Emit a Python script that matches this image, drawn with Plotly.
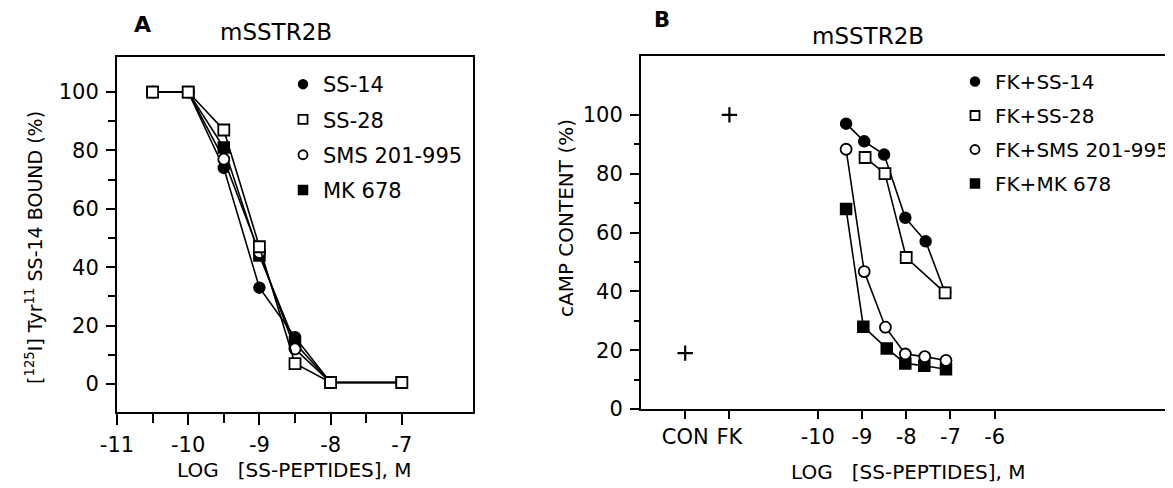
import plotly.graph_objects as go

# ---------------- data ----------------
# Panel A: binding competition
x_a = [-10.5, -10, -9.5, -9, -8.5, -8, -7]
ss14_a = [100, 100, 74, 33, 16, 0.5, 0.5]
ss28_a = [100, 100, 87, 47, 7, 0.5, 0.5]
sms_a = [100, 100, 77, 45, 12, 0.5, 0.5]
mk_a = [100, 100, 81, 44, 14, 0.5, 0.5]
names_a = ["SS-14", "SS-28", "SMS 201-995", "MK 678"]

# Panel B: cAMP content
ctrl_x = [-13, -12]          # CON, FK
ctrl_y = [19, 100]
x_ss14_b = [-9.36, -8.95, -8.5, -8.02, -7.56, -7.12]
ss14_b = [97, 91, 86.5, 65, 57, 39.5]
x_ss28_b = [-8.93, -8.48, -8.0, -7.12]
ss28_b = [85.5, 80, 51.5, 39.5]
x_sms_b = [-9.36, -8.95, -8.47, -8.02, -7.58, -7.1]
sms_b = [88.3, 46.7, 27.8, 18.7, 17.8, 16.5]
x_mk_b = [-9.36, -8.97, -8.44, -8.02, -7.59, -7.1]
mk_b = [68, 28, 20.6, 15.5, 14.7, 13.5]
names_b = ["FK+SS-14", "FK+SS-28", "FK+SMS 201-995", "FK+MK 678"]

tick_b_vals = [-13, -12, -10, -9, -8, -7, -6]
tick_b_text = ["CON", "FK", "-10", "-9", "-8", "-7", "-6"]

# ---------------- styling ----------------
FONT = "DejaVu Sans, Liberation Sans, sans-serif"
OFF = 8                      # page body margin
W, H = 1173 - OFF, 488 - OFF
styles = [
    dict(symbol="circle", color="black", size=11, line=dict(color="black", width=1.5)),
    dict(symbol="square", color="white", size=11, line=dict(color="black", width=1.8)),
    dict(symbol="circle", color="white", size=11, line=dict(color="black", width=1.8)),
    dict(symbol="square", color="black", size=11, line=dict(color="black", width=1.5)),
]
leg_styles = [dict(s, size=9) for s in styles]

fig = go.Figure()

series_a = [ss14_a, ss28_a, sms_a, mk_a]
for i in [0, 3, 2, 1]:
    fig.add_trace(go.Scatter(x=x_a, y=series_a[i], mode="lines+markers",
                             line=dict(color="black", width=1.6), marker=styles[i],
                             showlegend=False, xaxis="x", yaxis="y", cliponaxis=False))
for i, n in enumerate(names_a):
    fig.add_trace(go.Scatter(x=[None], y=[None], mode="markers", marker=leg_styles[i],
                             name=n, legend="legend", legendgroup="a%d" % i,
                             xaxis="x", yaxis="y"))

series_b = [(x_ss14_b, ss14_b), (x_ss28_b, ss28_b), (x_sms_b, sms_b), (x_mk_b, mk_b)]
for i in [0, 3, 2, 1]:
    xs, ys = series_b[i]
    fig.add_trace(go.Scatter(x=xs, y=ys, mode="lines+markers",
                             line=dict(color="black", width=1.6), marker=styles[i],
                             showlegend=False, xaxis="x2", yaxis="y2"))
fig.add_trace(go.Scatter(x=ctrl_x, y=ctrl_y, mode="markers",
                         marker=dict(symbol="cross-thin", size=11, line=dict(color="black", width=2.2)),
                         showlegend=False, xaxis="x2", yaxis="y2"))
for i, n in enumerate(names_b):
    fig.add_trace(go.Scatter(x=[None], y=[None], mode="markers", marker=leg_styles[i],
                             name=n, legend="legend2", legendgroup="b%d" % i,
                             xaxis="x2", yaxis="y2"))

def px_x(p):
    return (p - OFF) / W

def px_y(p):
    return 1 - (p - OFF) / H

tickfont = dict(family=FONT, size=21, color="black")
axis_common = dict(showgrid=False, zeroline=False, showline=True, linecolor="black",
                   linewidth=2, ticks="outside", tickcolor="black", tickwidth=2,
                   tickfont=tickfont, automargin=False)

fig.update_layout(
    width=W, height=H, margin=dict(l=0, r=0, t=0, b=0, autoexpand=False),
    paper_bgcolor="white", plot_bgcolor="white",
    font=dict(family=FONT, color="black"),
    xaxis=dict(axis_common, domain=[px_x(117), px_x(473)], range=[-11, -6],
               tickmode="array", tickvals=[-11, -10, -9, -8, -7],
               ticktext=["-11", "-10", "-9", "-8", "-7"], ticklen=11,
               minor=dict(tickmode="array", tickvals=[-10.5, -9.5, -8.5, -7.5],
                          ticks="outside", ticklen=9, tickwidth=2, tickcolor="black"),
               mirror=True, anchor="y", ticklabelstandoff=2),
    yaxis=dict(axis_common, domain=[px_y(412), px_y(57)], range=[-9.6, 112],
               tickmode="array", tickvals=[0, 20, 40, 60, 80, 100], ticklen=9,
               minor=dict(tickmode="array", tickvals=[10, 30, 50, 70, 90],
                          ticks="outside", ticklen=7, tickwidth=2, tickcolor="black"),
               mirror=True, anchor="x", ticklabelstandoff=3),
    xaxis2=dict(axis_common, domain=[px_x(641), 1.0], range=[-14, -14 + (1173 - 641) / 44.2],
                tickmode="array", tickvals=tick_b_vals, ticktext=tick_b_text, ticklen=8,
                mirror=True, anchor="y2", ticklabelstandoff=0),
    yaxis2=dict(axis_common, domain=[px_y(409), px_y(56)], range=[0, 120],
                tickmode="array", tickvals=[0, 20, 40, 60, 80, 100], ticklen=9,
                minor=dict(tickmode="array", tickvals=[10, 30, 50, 70, 90],
                           ticks="outside", ticklen=5, tickwidth=2, tickcolor="black"),
                mirror=False, anchor="x2", ticklabelstandoff=3),
    legend=dict(x=px_x(283), y=px_y(64), xanchor="left", yanchor="top",
                font=dict(family=FONT, size=21, color="black"), bgcolor="rgba(0,0,0,0)",
                tracegroupgap=5, itemsizing="trace"),
    legend2=dict(x=px_x(955), y=px_y(62), xanchor="left", yanchor="top",
                 font=dict(family=FONT, size=20, color="black"), bgcolor="rgba(0,0,0,0)",
                 tracegroupgap=5, itemsizing="trace"),
)

ann = [
    dict(text="<b>A</b>", x=px_x(142), y=px_y(25), size=22),
    dict(text="mSSTR2B", x=px_x(276), y=px_y(32), size=23),
    dict(text="<b>B</b>", x=px_x(662), y=px_y(20), size=21),
    dict(text="mSSTR2B", x=px_x(868), y=px_y(36), size=23),
    dict(text="LOG   [SS-PEPTIDES], M", x=px_x(294), y=px_y(470), size=20),
    dict(text="LOG   [SS-PEPTIDES], M", x=px_x(908), y=px_y(472), size=20),
]
for a in ann:
    fig.add_annotation(text=a["text"], x=a["x"], y=a["y"], xref="paper", yref="paper",
                       showarrow=False, xanchor="center", yanchor="middle",
                       font=dict(family=FONT, size=a["size"], color="black"))
fig.add_annotation(text="[<sup>125</sup>I] Tyr<sup>11</sup> SS-14 BOUND (%)",
                   x=px_x(34), y=px_y(248), xref="paper", yref="paper", showarrow=False,
                   textangle=-90, xanchor="center", yanchor="middle",
                   font=dict(family=FONT, size=19, color="black"))
fig.add_annotation(text="cAMP CONTENT (%)",
                   x=px_x(566), y=px_y(218), xref="paper", yref="paper", showarrow=False,
                   textangle=-90, xanchor="center", yanchor="middle",
                   font=dict(family=FONT, size=20, color="black"))

fig.write_html("out.html")
